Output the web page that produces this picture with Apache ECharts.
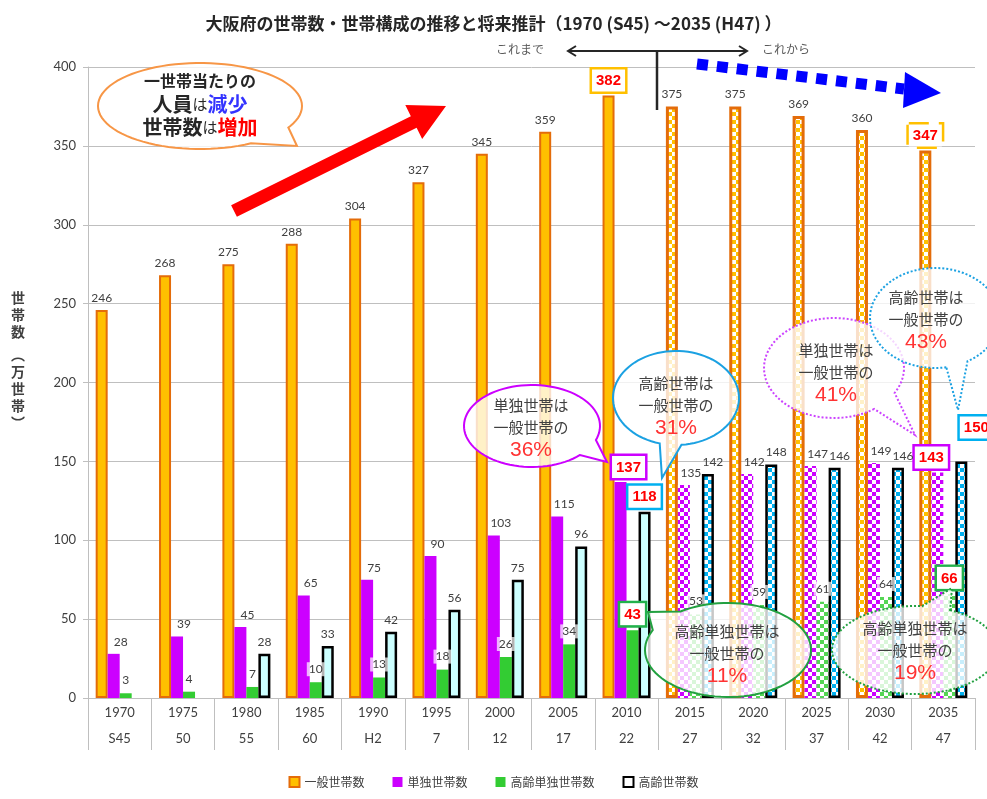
<!DOCTYPE html>
<html><head><meta charset="utf-8">
<script src="https://cdn.jsdelivr.net/npm/echarts@6/dist/echarts.min.js"></script>
<style>html,body{margin:0;padding:0;background:#fff}#c{width:987px;height:799px}</style>
</head><body><div id="c"></div>
<script>
// ---- data ----
const years = ['1970','1975','1980','1985','1990','1995','2000','2005','2010','2015','2020','2025','2030','2035'];
const eras = ['S45','50','55','60','H2','7','12','17','22','27','32','37','42','47'];
const general = [246,268,275,288,304,327,345,359,382,375,375,369,360,347];
const single = [28,39,45,65,75,90,103,115,137,135,142,147,149,143];
const elderlySingle = [3,4,7,10,13,18,26,34,43,53,59,61,64,66];
const elderly = [null,null,28,33,42,56,75,96,118,142,148,146,146,150];
const seriesNames = ['一般世帯数','単独世帯数','高齢単独世帯数','高齢世帯数'];
const yTicks = [0,50,100,150,200,250,300,350,400];
const firstProjection = 9;      // 2015 onward = projection
const highlighted = [8, 13];    // 2010 and 2035 values are boxed

const FONT = 'Noto Sans CJK JP';
const NUMFONT = 'Lato';

function checker(c1, c2, s) {
  const cv = document.createElement('canvas');
  cv.width = cv.height = 2 * s;
  const g = cv.getContext('2d');
  g.fillStyle = c1; g.fillRect(0, 0, 2 * s, 2 * s);
  g.fillStyle = c2; g.fillRect(0, 0, s, s); g.fillRect(s, s, s, s);
  return { image: cv, repeat: 'repeat' };
}

const styles = [
  { solid: { color: '#FFC000', borderColor: '#E46C0A', borderWidth: 2 },
    proj: { color: checker('#FFC000', '#ffffff', 4), borderColor: '#E46C0A', borderWidth: 3 },
    box: '#FFC000', off: [0, 0] },
  { solid: { color: '#CC00FF' },
    proj: { color: checker('#CC00FF', '#ffffff', 4) },
    box: '#CC00FF', off: [7, 0] },
  { solid: { color: '#33CC33' },
    proj: { color: checker('#55D555', '#ffffff', 4) },
    box: '#22B14C', off: [0, 0] },
  { solid: { color: '#CCFFFF', borderColor: '#000', borderWidth: 2.5 },
    proj: { color: checker('#00B0F0', '#ffffff', 4), borderColor: '#000', borderWidth: 2.5 },
    box: '#00B0F0', off: [0, 0] }
];
const hlOffsets = [
  { 8: [0, 0], 13: [0, 0] },
  { 8: [8, 0], 13: [-6, 0] },
  { 8: [0, 0], 13: [0, 0] },
  { 8: [0, 0], 13: [15, -19] }
];

function buildSeries(values, k) {
  const st = styles[k];
  return {
    name: seriesNames[k], type: 'bar', barWidth: 12, barGap: '0%',
    itemStyle: st.solid,
    label: {
      show: true, position: 'top', distance: 6, fontSize: 12, color: '#404040',
      fontFamily: NUMFONT, offset: st.off,
      backgroundColor: k === 2 ? 'rgba(255,255,255,0.7)' : 'transparent',
      padding: k === 2 ? [1, 2] : 0
    },
    data: values.map((v, i) => {
      const item = { value: v == null ? '-' : v };
      if (i >= firstProjection) item.itemStyle = st.proj;
      if (k === 3 && i >= firstProjection) item.label = { offset: [5, 0] };
      if (highlighted.includes(i)) {
        item.label = {
          formatter: '{h|{c}}', offset: hlOffsets[k][i], distance: 4,
          rich: { h: {
            color: '#FF0000', fontWeight: 'bold', fontSize: 15, fontFamily: 'Liberation Sans',
            backgroundColor: '#fff', borderColor: st.box, borderWidth: 2.5,
            borderType: (k === 0 && i === 13) ? 'dashed' : 'solid',
            padding: [4, 4, 3, 4]
          } }
        };
      }
      return item;
    })
  };
}

// ---- annotation helpers (layout only) ----
function bubble(cx, cy, rx, ry, a1, a2, tx, ty, stroke, dotted) {
  const pts = [];
  for (let a = a2; a <= a1 + 360 + 0.01; a += 4) {
    const r = a * Math.PI / 180;
    pts.push([cx + rx * Math.cos(r), cy + ry * Math.sin(r)]);
  }
  const r1 = (a1 + 360) * Math.PI / 180;
  pts.push([cx + rx * Math.cos(r1), cy + ry * Math.sin(r1)]);
  pts.push([tx, ty]);
  return {
    type: 'polygon', z: 10, shape: { points: pts },
    style: { fill: 'rgba(255,255,255,0.78)', stroke: stroke, lineWidth: 2,
             lineDash: dotted ? [2, 2] : null }
  };
}
function txt(x, y, text, size, color, extra) {
  return Object.assign({ type: 'text', z: 11, x: x, y: y,
    style: { text: text, fontSize: size, fill: color, fontFamily: FONT,
             align: 'center', verticalAlign: 'middle' } }, extra || {});
}
function bubbleText(x, y0, l1, l2, pct) {
  return [
    txt(x, y0, l1, 15, '#404040'),
    txt(x, y0 + 22, l2, 15, '#404040'),
    { type: 'text', z: 11, x: x, y: y0 + 45,
      style: { text: pct, fontSize: 21, fill: '#FF3333', fontFamily: 'Liberation Sans',
               align: 'center', verticalAlign: 'middle' } }
  ];
}
function arrowPoly(x1, y1, x2, y2, w, hl, hw) {
  const dx = x2 - x1, dy = y2 - y1, L = Math.hypot(dx, dy);
  const ux = dx / L, uy = dy / L, nx = -uy, ny = ux;
  const bx = x2 - ux * hl, by = y2 - uy * hl;
  return [[x1 + nx * w / 2, y1 + ny * w / 2], [bx + nx * w / 2, by + ny * w / 2],
          [bx + nx * hw / 2, by + ny * hw / 2], [x2, y2],
          [bx - nx * hw / 2, by - ny * hw / 2], [bx - nx * w / 2, by - ny * w / 2],
          [x1 - nx * w / 2, y1 - ny * w / 2]];
}

const yName = ['世','帯','数','︵','万','世','帯','︶'];
const graphics = [];
yName.forEach((ch, i) => {
  const t = txt(18, 298 + i * 17 + (i >= 3 ? 6 : 0), ch, 14, '#404040', {});
  t.style.fontWeight = 'bold';
  graphics.push(t);
});
// red arrow
graphics.push({ type: 'polygon', z: 9, shape: { points: arrowPoly(234, 211, 446, 106, 13, 36, 38) },
  style: { fill: '#FF0000' } });
// blue dotted arrow
graphics.push({ type: 'line', z: 9, shape: { x1: 697, y1: 64, x2: 904, y2: 89 },
  style: { stroke: '#0000FF', lineWidth: 11, lineDash: [11, 9] } });
graphics.push({ type: 'polygon', z: 9, shape: { points: [[905, 72], [941, 93], [903, 108]] },
  style: { fill: '#0000FF' } });
// past / future marker
graphics.push({ type: 'line', z: 9, shape: { x1: 568, y1: 51, x2: 747, y2: 51 },
  style: { stroke: '#262626', lineWidth: 2 } });
graphics.push({ type: 'polyline', z: 9, shape: { points: [[576, 46], [568, 51], [576, 56]] },
  style: { stroke: '#262626', lineWidth: 2, fill: null } });
graphics.push({ type: 'polyline', z: 9, shape: { points: [[739, 46], [747, 51], [739, 56]] },
  style: { stroke: '#262626', lineWidth: 2, fill: null } });
graphics.push({ type: 'line', z: 9, shape: { x1: 657, y1: 51, x2: 657, y2: 110 },
  style: { stroke: '#262626', lineWidth: 2.5 } });
graphics.push(txt(520, 49, 'これまで', 12, '#595959'));
graphics.push(txt(786, 49, 'これから', 12, '#595959'));

// bubbles
graphics.push(bubble(200, 106, 102, 43, 30, 60, 297, 146, '#F79646', false));
graphics.push({ type: 'text', z: 11, x: 200, y: 81, style: { text: '一世帯当たりの', fontSize: 16, fontWeight: 'bold', fill: '#262626', fontFamily: FONT, align: 'center', verticalAlign: 'middle' } });
graphics.push({ type: 'text', z: 11, x: 200, y: 104, style: {
  text: '{k|人員}{s|は}{b|減少}', align: 'center', verticalAlign: 'middle', fontFamily: FONT,
  rich: { k: { fontSize: 20, fontWeight: 'bold', fill: '#262626', fontFamily: FONT },
          s: { fontSize: 15, fill: '#262626', fontFamily: FONT },
          b: { fontSize: 20, fontWeight: 'bold', fill: '#3333FF', fontFamily: FONT } } } });
graphics.push({ type: 'text', z: 11, x: 200, y: 127, style: {
  text: '{k|世帯数}{s|は}{r|増加}', align: 'center', verticalAlign: 'middle', fontFamily: FONT,
  rich: { k: { fontSize: 20, fontWeight: 'bold', fill: '#262626', fontFamily: FONT },
          s: { fontSize: 15, fill: '#262626', fontFamily: FONT },
          r: { fontSize: 20, fontWeight: 'bold', fill: '#FF0000', fontFamily: FONT } } } });

graphics.push(bubble(532, 426, 68, 41, 20, 45, 607, 462, '#CC00FF', false));
graphics.push(...bubbleText(531, 405, '単独世帯は', '一般世帯の', '36%'));
graphics.push(bubble(676, 398, 63, 47, 85, 105, 662, 478, '#1BA1E2', false));
graphics.push(...bubbleText(676, 383, '高齢世帯は', '一般世帯の', '31%'));
graphics.push(bubble(728, 650, 83, 47, 205, 235, 648, 612, '#22A040', false));
graphics.push(...bubbleText(727, 631, '高齢単独世帯は', '一般世帯の', '11%'));
graphics.push(bubble(834, 368, 70, 50, 30, 55, 915, 435, '#CC44FF', true));
graphics.push(...bubbleText(836, 350, '単独世帯は', '一般世帯の', '41%'));
graphics.push(bubble(935, 318, 65, 50, 60, 80, 958, 410, '#1BA1E2', true));
graphics.push(...bubbleText(926, 297, '高齢世帯は', '一般世帯の', '43%'));
graphics.push(bubble(915, 650, 83, 44, 275, 295, 952, 588, '#22A040', true));
graphics.push(...bubbleText(915, 628, '高齢単独世帯は', '一般世帯の', '19%'));

const chart = echarts.init(document.getElementById('c'), null, { renderer: 'canvas' });
chart.setOption({
  animation: false,
  backgroundColor: '#fff',
  textStyle: { fontFamily: FONT },
  title: {
    text: '大阪府の世帯数・世帯構成の推移と将来推計（1970 (S45) ～2035 (H47) ）',
    left: 'center', top: 10,
    textStyle: { fontSize: 17, fontWeight: 'bold', color: '#262626', fontFamily: FONT }
  },
  grid: { left: 88, right: 12, top: 67, bottom: 101 },
  legend: {
    bottom: 6, left: 'center', itemWidth: 10, itemHeight: 10, itemGap: 28,
    icon: 'rect',
    textStyle: { fontSize: 12, color: '#404040', fontFamily: FONT },
    data: [
      { name: seriesNames[0], itemStyle: { color: '#FFC000', borderColor: '#E46C0A', borderWidth: 2 } },
      { name: seriesNames[1], itemStyle: { color: '#CC00FF' } },
      { name: seriesNames[2], itemStyle: { color: '#33CC33' } },
      { name: seriesNames[3], itemStyle: { color: '#fff', borderColor: '#000', borderWidth: 2 } }
    ]
  },
  xAxis: {
    type: 'category', data: years,
    axisLine: { lineStyle: { color: '#BFBFBF' } },
    axisTick: { show: true, length: 52, interval: 0, lineStyle: { color: '#BFBFBF' } },
    axisLabel: {
      interval: 0, margin: 2,
      formatter: (v, i) => '{y|' + v + '}\n{e|' + eras[i] + '}',
      rich: { y: { fontSize: 13, lineHeight: 26, color: '#404040', fontFamily: NUMFONT },
              e: { fontSize: 13, lineHeight: 26, color: '#404040', fontFamily: NUMFONT } }
    }
  },
  yAxis: {
    type: 'value', min: yTicks[0], max: yTicks[yTicks.length - 1], interval: yTicks[1] - yTicks[0],
    axisLine: { show: true, lineStyle: { color: '#BFBFBF' } },
    axisTick: { show: true, length: 5, lineStyle: { color: '#BFBFBF' } },
    splitLine: { lineStyle: { color: '#BFBFBF' } },
    axisLabel: { fontSize: 13, color: '#404040', fontFamily: NUMFONT, margin: 12 }
  },
  series: [
    buildSeries(general, 0),
    buildSeries(single, 1),
    buildSeries(elderlySingle, 2),
    buildSeries(elderly, 3)
  ],
  graphic: { elements: graphics }
});
</script></body></html>
